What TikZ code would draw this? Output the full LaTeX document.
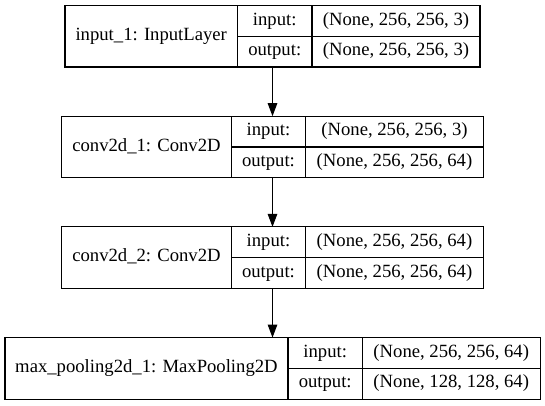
\documentclass[tikz,border=0pt]{standalone}
\usepackage{fontspec}
\setmainfont{Liberation Serif}
\usetikzlibrary{positioning,fit,arrows.meta}

\tikzstyle{line} = [draw, -{Stealth[inset=0pt,length=13pt,width=9.5pt]}, line width=1.1pt]
\tikzstyle{cell} = [draw, line width=1.1pt, rectangle, inner sep=0pt, outer sep=0pt, text height=12.5pt, text depth=4pt, node distance=0pt, font=\fontsize{18.67}{22}\selectfont]
\tikzstyle{namecell} = [cell, minimum height=61.5pt]
\tikzstyle{keycell} = [cell, minimum width=74.5pt, minimum height=30.75pt]
\tikzstyle{valcell} = [cell, minimum width=177.6pt, minimum height=30.75pt]
\tikzstyle{layer} = [rectangle, inner sep=0pt, outer sep=0pt]

\begin{document}
\begin{tikzpicture}
\useasboundingbox (0,0) rectangle (545pt,-405pt);
% camada 1
\node [namecell, minimum width=172.5pt, anchor=north west] (name1) at (65pt,-5.5pt) {input\_1: InputLayer};
\node [keycell, right=0pt of name1.north east, anchor=north west] (in1k) {input:};
\node [keycell, below=0pt of in1k] (out1k) {output:};
\node [valcell, minimum width=168pt, right=0pt of in1k] (in1v) {(None, 256, 256, 3)};
\node [valcell, minimum width=168pt, right=0pt of out1k] (out1v) {(None, 256, 256, 3)};
% camada 2
\node [namecell, minimum width=169.5pt, below=49.2pt of name1.south west, anchor=north west, xshift=-3.3pt] (name2) {conv2d\_1: Conv2D};
\node [keycell, right=0pt of name2.north east, anchor=north west] (in2k) {input:};
\node [keycell, below=0pt of in2k] (out2k) {output:};
\node [valcell, right=0pt of in2k] (in2v) {(None, 256, 256, 3)};
\node [valcell, right=0pt of out2k] (out2v) {(None, 256, 256, 64)};
% camada 3
\node [namecell, minimum width=169.5pt, below=49.2pt of name2.south west, anchor=north west] (name3) {conv2d\_2: Conv2D};
\node [keycell, right=0pt of name3.north east, anchor=north west] (in3k) {input:};
\node [keycell, below=0pt of in3k] (out3k) {output:};
\node [valcell, right=0pt of in3k] (in3v) {(None, 256, 256, 64)};
\node [valcell, right=0pt of out3k] (out3v) {(None, 256, 256, 64)};
% camada 4
\node [namecell, minimum width=283pt, below=49.2pt of name3.south west, anchor=north west, xshift=-56.75pt] (name4) {max\_pooling2d\_1: MaxPooling2D};
\node [keycell, right=0pt of name4.north east, anchor=north west] (in4k) {input:};
\node [keycell, below=0pt of in4k] (out4k) {output:};
\node [valcell, right=0pt of in4k] (in4v) {(None, 256, 256, 64)};
\node [valcell, right=0pt of out4k] (out4v) {(None, 128, 128, 64)};
% caixas
\node [layer, fit=(name1)(in1v)(out1v)] (layer1) {};
\node [layer, fit=(name2)(in2v)(out2v)] (layer2) {};
\node [layer, fit=(name3)(in3v)(out3v)] (layer3) {};
\node [layer, fit=(name4)(in4v)(out4v)] (layer4) {};
%arrows
\path [line] (layer1.south) -- (layer2.north);
\path [line] (layer2.south) -- (layer3.north);
\path [line] (layer3.south) -- (layer4.north);
\end{tikzpicture}
\end{document}
